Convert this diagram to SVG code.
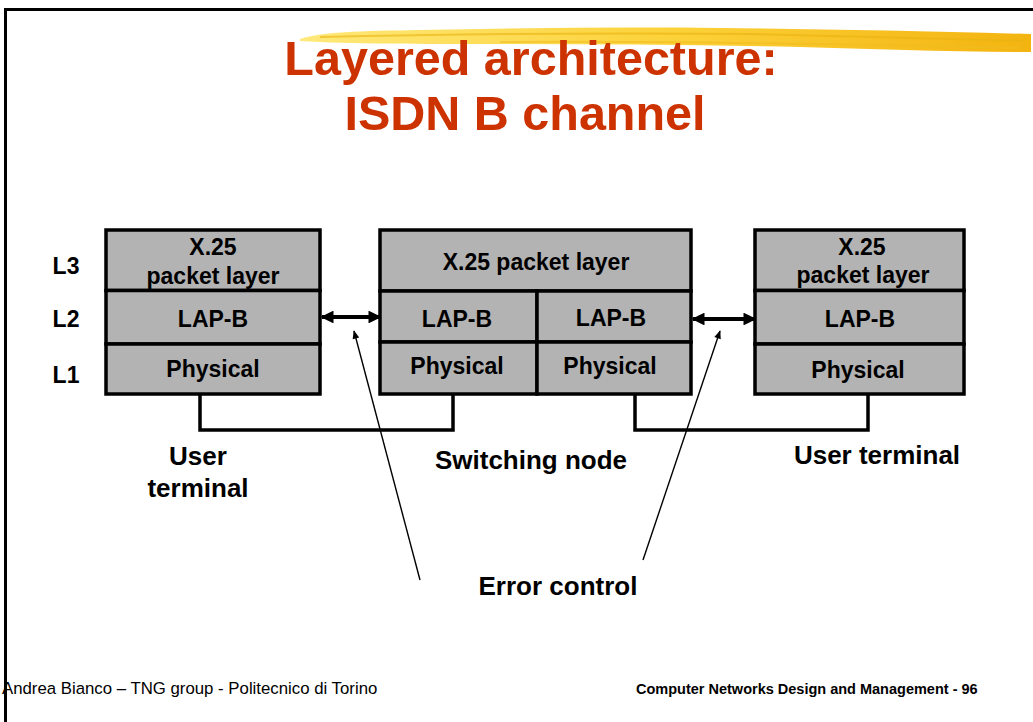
<svg xmlns="http://www.w3.org/2000/svg" width="1033" height="722" viewBox="0 0 1033 722">
<style>
.t{font-family:"Liberation Sans",Arial,sans-serif;font-weight:bold;fill:#000}
.box{fill:#b3b3b3;stroke:#000;stroke-width:3.5}
.cell{font-size:23px;text-anchor:middle}
.lbl{font-size:26px;text-anchor:middle}
.title{font-family:"Liberation Sans",Arial,sans-serif;font-weight:bold;font-size:48.5px;fill:#cc3300;text-anchor:middle}
.thick{stroke:#000;stroke-width:4;fill:none}
.thin{stroke:#000;stroke-width:1.4;fill:none}
.link{stroke:#000;stroke-width:3.5;fill:none}
</style>
<defs>
<linearGradient id="brush" x1="0" y1="0" x2="1" y2="0">
<stop offset="0" stop-color="#ffe97a"/>
<stop offset="0.5" stop-color="#fcd23a"/>
<stop offset="1" stop-color="#f3b410"/>
</linearGradient>
<marker id="ah" viewBox="0 0 10 10" refX="9" refY="5" markerWidth="3.2" markerHeight="3.2" orient="auto-start-reverse" markerUnits="strokeWidth">
<path d="M0,0 L10,5 L0,10 z" fill="#000"/>
</marker>
<marker id="sh" viewBox="0 0 10 10" refX="9" refY="5" markerWidth="7" markerHeight="6" orient="auto" markerUnits="strokeWidth">
<path d="M0,1 L10,5 L0,9 z" fill="#000"/>
</marker>
</defs>
<rect width="1033" height="722" fill="#fff"/>
<path d="M5.5,722 V9.5 H1033" fill="none" stroke="#000" stroke-width="3"/>
<g id="brushstroke">
<path d="M300,39 C320,32 360,31 420,30 C520,28 620,27 720,28 C820,29 920,31 1031,34 L1031,52 C950,52 870,49 800,47 C700,45 600,44 500,44 C420,44 350,44 300,41 z" fill="url(#brush)"/>
<path d="M320,37 C450,34 600,33 750,34 C850,36 950,39 1025,41" fill="none" stroke="#e9b310" stroke-width="2" opacity="0.6"/>
<path d="M500,42 C650,41 800,43 1020,48" fill="none" stroke="#f0bd20" stroke-width="2" opacity="0.6"/>
</g>
<g id="title">
<text class="title" x="531" y="75">Layered architecture:</text>
<text class="title" x="525" y="130">ISDN B channel</text>
</g>
<g id="layer-labels">
<text class="t cell" x="66" y="274">L3</text>
<text class="t cell" x="66" y="327">L2</text>
<text class="t cell" x="66" y="383">L1</text>
</g>
<g id="user-terminal-left">
<rect class="box" x="106" y="230" width="214" height="60.5"/>
<rect class="box" x="106" y="290.5" width="214" height="53.5"/>
<rect class="box" x="106" y="344" width="214" height="50"/>
<text class="t cell" x="213" y="255">X.25</text>
<text class="t cell" x="213" y="284">packet layer</text>
<text class="t cell" x="213" y="327">LAP-B</text>
<text class="t cell" x="213" y="377">Physical</text>
</g>
<g id="switching-node">
<rect class="box" x="380" y="230" width="311" height="61"/>
<rect class="box" x="380" y="291" width="157" height="51"/>
<rect class="box" x="537" y="291" width="154" height="51"/>
<rect class="box" x="380" y="342" width="157" height="52"/>
<rect class="box" x="537" y="342" width="154" height="52"/>
<text class="t cell" x="536" y="270">X.25 packet layer</text>
<text class="t cell" x="457" y="327">LAP-B</text>
<text class="t cell" x="611" y="326">LAP-B</text>
<text class="t cell" x="457" y="374">Physical</text>
<text class="t cell" x="610" y="374">Physical</text>
</g>
<g id="user-terminal-right">
<rect class="box" x="755" y="230" width="209" height="60.5"/>
<rect class="box" x="755" y="290.5" width="209" height="53.5"/>
<rect class="box" x="755" y="344" width="209" height="50"/>
<text class="t cell" x="862" y="255">X.25</text>
<text class="t cell" x="863" y="283">packet layer</text>
<text class="t cell" x="860" y="327">LAP-B</text>
<text class="t cell" x="858" y="378">Physical</text>
</g>
<g id="labels">
<text class="t lbl" x="198" y="465">User</text>
<text class="t lbl" x="198" y="497">terminal</text>
<text class="t lbl" x="531" y="469">Switching node</text>
<text class="t lbl" x="877" y="464">User terminal</text>
<text class="t lbl" x="558" y="595">Error control</text>
</g>
<g id="connectors">
<path class="link" d="M200,394 V430 H453 V394"/>
<path class="link" d="M635,394 V430 H868 V394"/>
<line class="thick" x1="322" y1="317" x2="380" y2="317" marker-start="url(#ah)" marker-end="url(#ah)"/>
<line class="thick" x1="693" y1="319" x2="755" y2="319" marker-start="url(#ah)" marker-end="url(#ah)"/>
<line class="thin" x1="420" y1="580" x2="354" y2="331" marker-end="url(#sh)"/>
<line class="thin" x1="643" y1="560" x2="720" y2="331" marker-end="url(#sh)"/>
</g>
<g id="footer">
<text x="2" y="694" font-family="'Liberation Sans',Arial,sans-serif" font-size="16.8px" fill="#000">Andrea Bianco – TNG group - Politecnico di Torino</text>
<text class="t" x="636" y="694" font-size="14.5px">Computer Networks Design and Management - 96</text>
</g>
</svg>
